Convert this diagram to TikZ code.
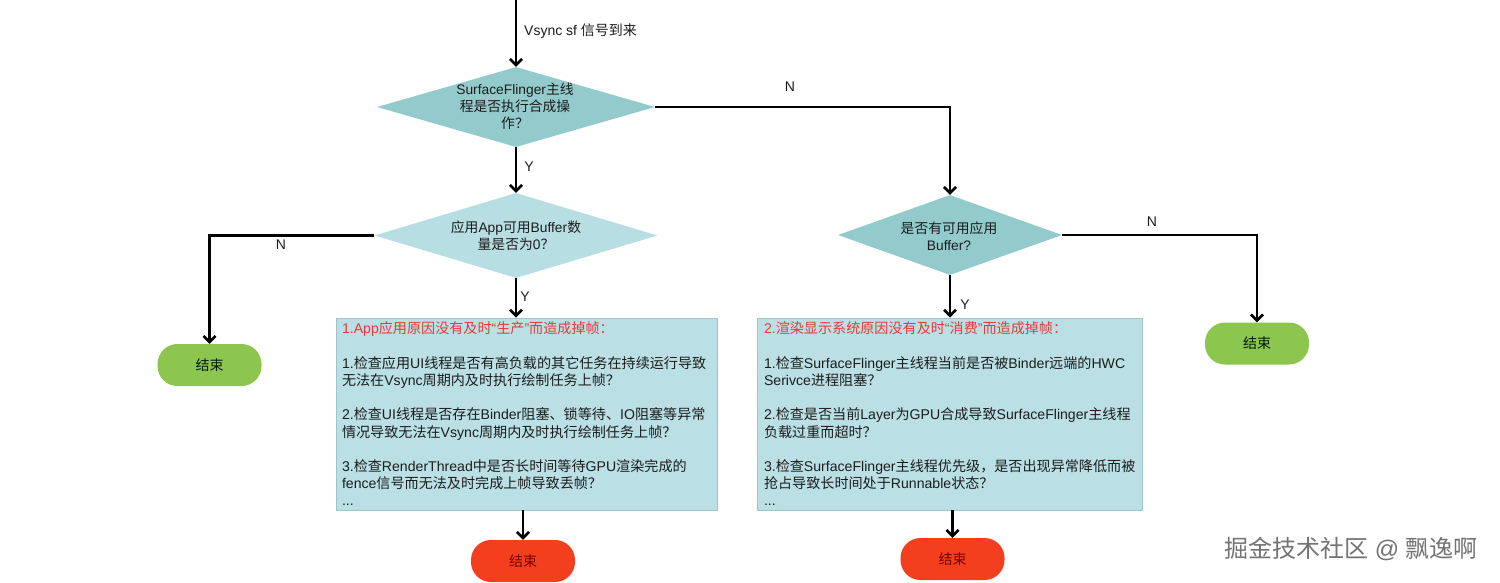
\documentclass[tikz,border=0pt]{standalone}
\usepackage{fontspec}
\setmainfont{Liberation Sans}
\newfontfamily\cjk{Noto Sans CJK SC}
\newcommand\zhs[1]{{\cjk #1}}
\hyphenpenalty=10000
\usetikzlibrary{shapes.geometric,arrows.meta}
\definecolor{decA}{HTML}{93CBCD}
\definecolor{decB}{HTML}{B7DFE3}
\definecolor{boxfill}{HTML}{BAE0E5}
\definecolor{boxline}{HTML}{9DC6CB}
\definecolor{endgreen}{HTML}{8DC64F}
\definecolor{endred}{HTML}{F43F1E}
\definecolor{titlered}{HTML}{E53A3A}
\definecolor{txt}{HTML}{1C1C1C}
\tikzset{
  conn/.style={line width=2.6pt, draw=black, -{Straight Barb[length=6pt,width=12pt]}},
  decbox/.style={diamond, inner sep=0pt, draw=none},
  dectext/.style={align=center, text=txt, font=\fontsize{13.8}{17}\selectfont, inner sep=0pt},
  infobox/.style={rectangle, fill=boxfill, draw=boxline, line width=0.8pt, text=txt,
     align=left, font=\fontsize{14.1}{17.2}\selectfont, inner ysep=3pt},
  endbox/.style={rectangle, rounded corners=20pt, minimum width=104pt, minimum height=42pt,
     font=\fontsize{14}{16}\selectfont, inner sep=0pt},
  lbl/.style={text=txt, font=\fontsize{14}{16}\selectfont, inner sep=0pt},
}
\begin{document}
\begin{tikzpicture}[x=1pt,y=-1pt]
\fill[white] (0,0) rectangle (1500,583);
\useasboundingbox (0,0) rectangle (1500,583);

% decisions
\node[decbox, fill=decA, minimum width=278pt, minimum height=80pt, aspect=3.5] (d1) at (516,107) {};
\node[dectext] (d1t) at (515,106) {SurfaceFlinger\zhs{主线}\\\zhs{程是否执行合成操}\\\zhs{作？}};
\node[decbox, fill=decB, minimum width=283pt, minimum height=85pt, aspect=3.3] (d2) at (516,235.5) {};
\node[dectext] (d2t) at (516,236) {\zhs{应用}App\zhs{可用}Buffer\zhs{数}\\\zhs{量是否为}0\zhs{？}};
\node[decbox, fill=decA, minimum width=224pt, minimum height=80pt, aspect=2.8] (d3) at (950,235) {};
\node[dectext] (d3t) at (949,236.5) {\zhs{是否有可用应用}\\Buffer?};

% info boxes
\node[infobox, minimum width=381pt, minimum height=192pt, text width=369pt, inner xsep=6pt] (b1) at (526.5,414) {%
{\color{titlered}1.App\zhs{应用原因没有及时}“\zhs{生产}”\zhs{而造成掉帧：}}\\[17.2pt]
1.\zhs{检查应用}UI\zhs{线程是否有高负载的其它任务在持续运行导致}\\
\zhs{无法在}Vsync\zhs{周期内及时执行绘制任务上帧？}\\[17.2pt]
2.\zhs{检查}UI\zhs{线程是否存在}Binder\zhs{阻塞、锁等待、}IO\zhs{阻塞等异常}\\
\zhs{情况导致无法在}Vsync\zhs{周期内及时执行绘制任务上帧？}\\[17.2pt]
3.\zhs{检查}RenderThread\zhs{中是否长时间等待}GPU\zhs{渲染完成的}\\
fence\zhs{信号而无法及时完成上帧导致丢帧？}\\
...};
\node[infobox, minimum width=385pt, minimum height=192pt, text width=371pt, inner xsep=7pt] (b2) at (949.5,414) {%
{\color{titlered}2.\zhs{渲染显示系统原因没有及时}“\zhs{消费}”\zhs{而造成掉帧：}}\\[17.2pt]
1.\zhs{检查}SurfaceFlinger\zhs{主线程当前是否被}Binder\zhs{远端的}HWC\\
Serivce\zhs{进程阻塞？}\\[17.2pt]
2.\zhs{检查是否当前}Layer\zhs{为}GPU\zhs{合成导致}SurfaceFlinger\zhs{主线程}\\
\zhs{负载过重而超时？}\\[17.2pt]
3.\zhs{检查}SurfaceFlinger\zhs{主线程优先级，是否出现异常降低而被}\\
\zhs{抢占导致长时间处于}Runnable\zhs{状态？}\\
...};

% end nodes
\node[endbox, fill=endgreen, text=black!75!green!40!black] (e1) at (209.5,365) {\zhs{结束}};
\node[endbox, fill=endgreen, text=black!75!green!40!black] (e4) at (1257,343.5) {\zhs{结束}};
\node[endbox, fill=endred, text=red!45!black] (e2) at (523,561) {\zhs{结束}};
\node[endbox, fill=endred, text=red!45!black] (e3) at (952.5,559) {\zhs{结束}};

% start
\coordinate (start) at (516,0);
\draw[conn] (start) -- (d1.north);
\node[lbl, anchor=west] (vs) at (524,31) {Vsync sf \zhs{信号到来}};

% connectors
\draw[conn] (d1.south) -- (d2.north);
\node[lbl] (y1) at (529,167) {Y};

\draw[conn] (d2.west) -| (e1.north);
\node[lbl] (n2) at (281,245) {N};

\draw[conn] (d2.south) -- (d2.south |- b1.north);
\node[lbl] (y2) at (525,297) {Y};

\draw[conn] (e2.north |- b1.south) -- (e2.north);

\draw[conn] (d1.east) -| (d3.north);
\node[lbl] (n1) at (790,87) {N};

\draw[conn] (d3.south) -- (d3.south |- b2.north);
\node[lbl] (y3) at (965,305) {Y};

\draw[conn] (e3.north |- b2.south) -- (e3.north);

\draw[conn] (d3.east) -| (e4.north);
\node[lbl] (n3) at (1152,222) {N};

% watermark
\node[font=\fontsize{24}{26}\selectfont, text=black!55, inner sep=0pt] (wm) at (1351,549) {\zhs{掘金技术社区} @ \zhs{飘逸啊}};
\end{tikzpicture}
\end{document}
